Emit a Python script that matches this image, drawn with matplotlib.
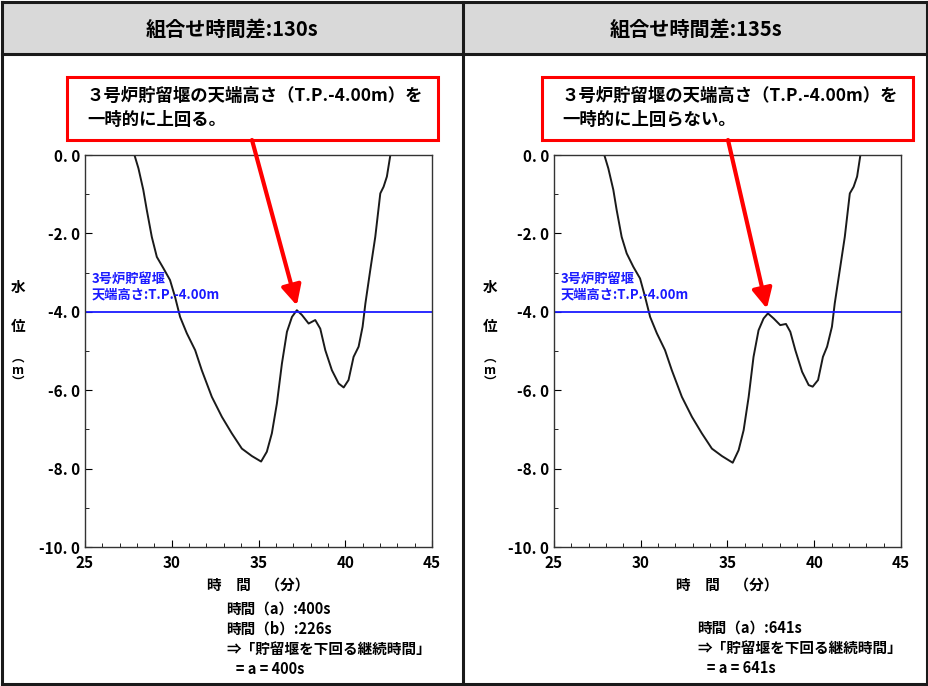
import matplotlib
matplotlib.use("Agg")
import matplotlib.pyplot as plt
from matplotlib.patches import Rectangle
from matplotlib.lines import Line2D

plt.rcParams['font.family'] = ['Noto Sans CJK JP', 'DejaVu Sans']

# ---- data ----
t_130 = [27.85, 28.08, 28.36, 28.56, 28.85, 29.14, 29.52, 29.90, 30.19, 30.48, 30.87, 31.35,
         31.73, 32.31, 32.89, 33.46, 34.04, 34.62, 35.15, 35.48, 35.77, 36.06, 36.35, 36.64,
         36.93, 37.21, 37.50, 37.89, 38.27, 38.56, 38.85, 39.23, 39.62, 39.91, 40.19, 40.48,
         40.77, 41.00, 41.16, 41.44, 41.73, 42.02, 42.21, 42.40, 42.60]
h_130 = [0.00, -0.34, -0.89, -1.40, -2.09, -2.60, -2.89, -3.19, -3.62, -4.13, -4.55, -4.98,
         -5.49, -6.17, -6.68, -7.10, -7.49, -7.68, -7.82, -7.57, -7.10, -6.34, -5.32, -4.51,
         -4.13, -3.96, -4.08, -4.30, -4.21, -4.43, -4.98, -5.49, -5.83, -5.93, -5.74, -5.15,
         -4.89, -4.38, -3.79, -2.94, -2.09, -0.98, -0.81, -0.55, 0.00]
t_135 = [27.90, 28.13, 28.42, 28.61, 28.90, 29.19, 29.57, 29.96, 30.25, 30.54, 30.93, 31.40,
         31.79, 32.37, 32.95, 33.52, 34.10, 34.68, 35.30, 35.64, 35.93, 36.22, 36.50, 36.79,
         37.08, 37.33, 37.66, 38.04, 38.37, 38.62, 38.91, 39.30, 39.68, 39.91, 40.22, 40.50,
         40.74, 41.02, 41.18, 41.47, 41.76, 42.05, 42.27, 42.47, 42.66]
h_135 = [0.00, -0.34, -0.89, -1.40, -2.09, -2.51, -2.85, -3.15, -3.62, -4.13, -4.55, -4.98,
         -5.49, -6.17, -6.68, -7.10, -7.49, -7.68, -7.85, -7.53, -7.02, -6.17, -5.15, -4.47,
         -4.17, -4.04, -4.17, -4.34, -4.31, -4.51, -4.98, -5.53, -5.87, -5.91, -5.74, -5.15,
         -4.89, -4.38, -3.79, -2.94, -2.09, -0.98, -0.81, -0.55, 0.00]
weir_level = -4.0
peak_130 = (37.21, -3.96)
peak_135 = (37.27, -4.04)

headers = ["組合せ時間差:130s", "組合せ時間差:135s"]
callouts = ["３号炉貯留堰の天端高さ（T.P.-4.00m）を\n一時的に上回る。",
            "３号炉貯留堰の天端高さ（T.P.-4.00m）を\n一時的に上回らない。"]
weir_label = "3号炉貯留堰\n天端高さ:T.P.-4.00m"
notes = ["時間（a）:400s\n時間（b）:226s\n⇒「貯留堰を下回る継続時間」\n   = a = 400s",
         "時間（a）:641s\n⇒「貯留堰を下回る継続時間」\n   = a = 641s"]
x_ticks = [25, 30, 35, 40, 45]
y_ticks = [0, -2, -4, -6, -8, -10]
y_ticklabels = ["0. 0", "-2. 0", "-4. 0", "-6. 0", "-8. 0", "-10. 0"]
xlabel = "時　間　（分）"

W, H = 929, 686
fig = plt.figure(figsize=(W / 100, H / 100), dpi=100)

# background overlay in pixel coordinates
bg = fig.add_axes([0, 0, 1, 1], zorder=0)
bg.set_xlim(0, W)
bg.set_ylim(H, 0)
bg.axis('off')

# header fill
bg.add_patch(Rectangle((2, 2), W - 4, 52, facecolor='#d9d9d9', edgecolor='none'))
# frame lines
for (x0, y0, x1, y1) in [(2, 2, W - 2, 2), (2, H - 2, W - 2, H - 2), (2, 2, 2, H - 2),
                         (W - 2, 2, W - 2, H - 2), (463, 2, 463, H - 2), (2, 54, W - 2, 54)]:
    bg.add_line(Line2D([x0, x1], [y0, y1], color='#1a1a1a', lw=2.2))

header_x = [232, 696]
for hx, txt in zip(header_x, headers):
    bg.text(hx, 29, txt, ha='center', va='center', fontsize=14.5, fontweight='bold')

# callout boxes
box_x = [67, 542]
for bx, txt in zip(box_x, callouts):
    bg.add_patch(Rectangle((bx, 77), 371, 63, facecolor='white', edgecolor='#ff0000', lw=2.2))
    bg.text(bx + 20, 108, txt, ha='left', va='center', fontsize=12.5, fontweight='bold',
            linespacing=1.45)

# y-axis label (vertical)
for ylab_x in [18, 490]:
    bg.text(ylab_x, 287, "水", ha='center', va='center', fontsize=10.5, fontweight='bold')
    bg.text(ylab_x, 326, "位", ha='center', va='center', fontsize=10.5, fontweight='bold')
    bg.text(ylab_x, 370, "︵\nm\n︶", ha='center', va='center', fontsize=9, fontweight='bold',
            linespacing=0.9)

# bottom notes
note_pos = [(226, 601), (697, 620)]
for (nx, ny), txt in zip(note_pos, notes):
    bg.text(nx, ny, txt, ha='left', va='top', fontsize=10.5, fontweight='bold', linespacing=1.3)

axes_left_px = [85, 554]
arrow_start = [(252, 140), (728, 140)]
series = [(t_130, h_130, peak_130), (t_135, h_135, peak_135)]
for lx, (t, h, pk), ast in zip(axes_left_px, series, arrow_start):
    ax = fig.add_axes([lx / W, 1 - 547 / H, 347 / W, 392 / H], zorder=1)
    ax.set_xlim(25, 45)
    ax.set_ylim(-10, 0)
    ax.plot(t, h, color='#1a1a1a', lw=1.4, solid_joinstyle='round')
    ax.axhline(weir_level, color='#1a1aff', lw=1.3)
    ax.text(25.4, -3.75, weir_label, color='#1a1aff', fontsize=9.5, fontweight='bold',
            ha='left', va='bottom', linespacing=1.2)
    ax.set_xticks(x_ticks)
    ax.set_xticks(range(25, 46), minor=True)
    ax.set_yticks(y_ticks)
    ax.set_yticklabels(y_ticklabels)
    ax.set_yticks(range(-10, 1), minor=True)
    ax.tick_params(axis='both', which='both', direction='in', top=False, right=False)
    ax.tick_params(which='major', length=5, labelsize=11)
    ax.tick_params(which='minor', length=3)
    ax.tick_params(axis='x', pad=6)
    for lab in ax.get_xticklabels() + ax.get_yticklabels():
        lab.set_fontweight('bold')
    for sp in ax.spines.values():
        sp.set_color('#333333')
        sp.set_linewidth(1.0)
    ax.set_xlabel(xlabel, fontsize=10.5, fontweight='bold', labelpad=4)
    ax.annotate("", xy=(pk[0], pk[1] + 0.12), xycoords='data',
                xytext=ast, textcoords=bg.transData,
                arrowprops=dict(arrowstyle='-|>,head_length=1.2,head_width=0.6',
                                color='#ff0000', lw=3, shrinkA=0, shrinkB=0),
                annotation_clip=False)

fig.savefig("out.png", dpi=100)
